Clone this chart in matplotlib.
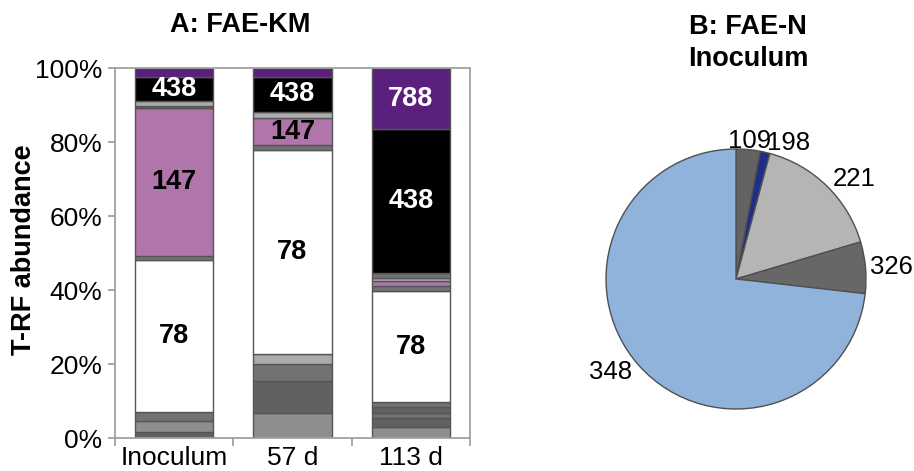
import matplotlib
matplotlib.use("Agg")
import matplotlib.pyplot as plt
from matplotlib.ticker import PercentFormatter

plt.rcParams['font.family'] = ['Liberation Sans', 'DejaVu Sans']

# ---- Panel A: stacked T-RF composition (bottom to top) ----
samples = ["Inoculum", "57 d", "113 d"]

inoculum_trf = ["m_dark", "m_mid", "m_gray", "78", "m_gray", "147", "m_dark", "m_light", "438", "788"]
inoculum_pct = [1.7, 3.0, 2.4, 41.1, 1.1, 39.9, 0.6, 1.2, 6.5, 2.5]

day57_trf = ["m_mid", "m_dark", "m_gray", "m_light", "78", "m_gray", "147", "m_light", "438", "788"]
day57_pct = [6.7, 8.8, 4.6, 2.7, 55.1, 1.2, 7.3, 1.8, 9.3, 2.5]

day113_trf = ["m_mid", "m_dark", "m_gray", "m_dark", "m_gray", "78", "m_gray", "147",
              "m_light", "m_gray", "438", "788"]
day113_pct = [3.1, 2.2, 1.4, 1.8, 1.3, 29.8, 1.4, 1.4, 0.9, 1.3, 38.8, 16.6]

# ---- Panel B: inoculum pie ----
pie_trf = ["109", "198", "221", "326", "348"]
pie_pct = [3.0, 1.2, 16.2, 6.4, 73.2]

trf_colors = {
    "788": "#5B1F7E", "438": "#000000", "147": "#B075AA", "78": "#FFFFFF",
    "m_dark": "#616161", "m_mid": "#8E8E8E", "m_gray": "#727272", "m_light": "#ABABAB",
}
trf_text = {"788": "white", "438": "white", "147": "black", "78": "black"}
pie_colors = ["#636363", "#1F2D8A", "#B5B5B5", "#676767", "#8FB3DB"]

fig = plt.figure(figsize=(9.14, 4.71), dpi=100)
W, H = 914, 471

# Stacked bars
axL = fig.add_axes([115 / W, (H - 438) / H, (470 - 115) / W, (438 - 68) / H])
stacks = [(inoculum_trf, inoculum_pct), (day57_trf, day57_pct), (day113_trf, day113_pct)]
for i, (trfs, pcts) in enumerate(stacks):
    bottom = 0.0
    for trf, pct in zip(trfs, pcts):
        axL.bar(i, pct, bottom=bottom, width=0.66, color=trf_colors[trf],
                edgecolor="#555555", linewidth=1.0, zorder=2)
        if trf in trf_text and pct >= 5:
            axL.text(i, bottom + pct / 2, trf, ha="center", va="center",
                     fontsize=19.5, fontweight="bold", color=trf_text[trf], zorder=3)
        bottom += pct

axL.set_xlim(-0.5, len(samples) - 0.5)
axL.set_ylim(0, 100)
axL.set_yticks(range(0, 101, 20))
axL.yaxis.set_major_formatter(PercentFormatter(decimals=0))
axL.set_xticks(range(len(samples)))
axL.set_xticklabels(samples)
axL.set_xticks([x - 0.5 for x in range(len(samples) + 1)], minor=True)
axL.tick_params(axis="x", which="major", length=0, labelsize=19, pad=6)
axL.tick_params(axis="x", which="minor", length=6, color="#9A9A9A", width=1.2)
axL.tick_params(axis="y", length=5, color="#9A9A9A", width=1.2, labelsize=19, pad=4)
for s in axL.spines.values():
    s.set_color("#A0A0A0")
    s.set_linewidth(1.3)

fig.text(240 / W, 1 - 25 / H, "A: FAE-KM", ha="center", va="center",
         fontsize=19.5, fontweight="bold")
fig.text(24 / W, 1 - 250 / H, "T-RF abundance", ha="center", va="center",
         rotation=90, fontsize=19.5, fontweight="bold")

# Pie
cx, cy, r = 736, 279, 130
axR = fig.add_axes([(cx - r) / W, (H - cy - r) / H, 2 * r / W, 2 * r / H])
wedges, texts = axR.pie(pie_pct, labels=pie_trf, colors=pie_colors, startangle=90,
                        counterclock=False, labeldistance=1.07,
                        wedgeprops=dict(edgecolor="#505050", linewidth=1.0),
                        textprops=dict(fontsize=18.5))
texts[0].set_horizontalalignment("center")
lx, ly = texts[3].get_position()
texts[3].set_position((lx * 0.965, ly))
axR.set_xlim(-1, 1)
axR.set_ylim(-1, 1)
axR.set_aspect("auto")

fig.text(748 / W, 1 - 43 / H, "B: FAE-N\nInoculum", ha="center", va="center",
         fontsize=19.5, fontweight="bold", linespacing=1.25)

fig.savefig("out.png", dpi=100)
